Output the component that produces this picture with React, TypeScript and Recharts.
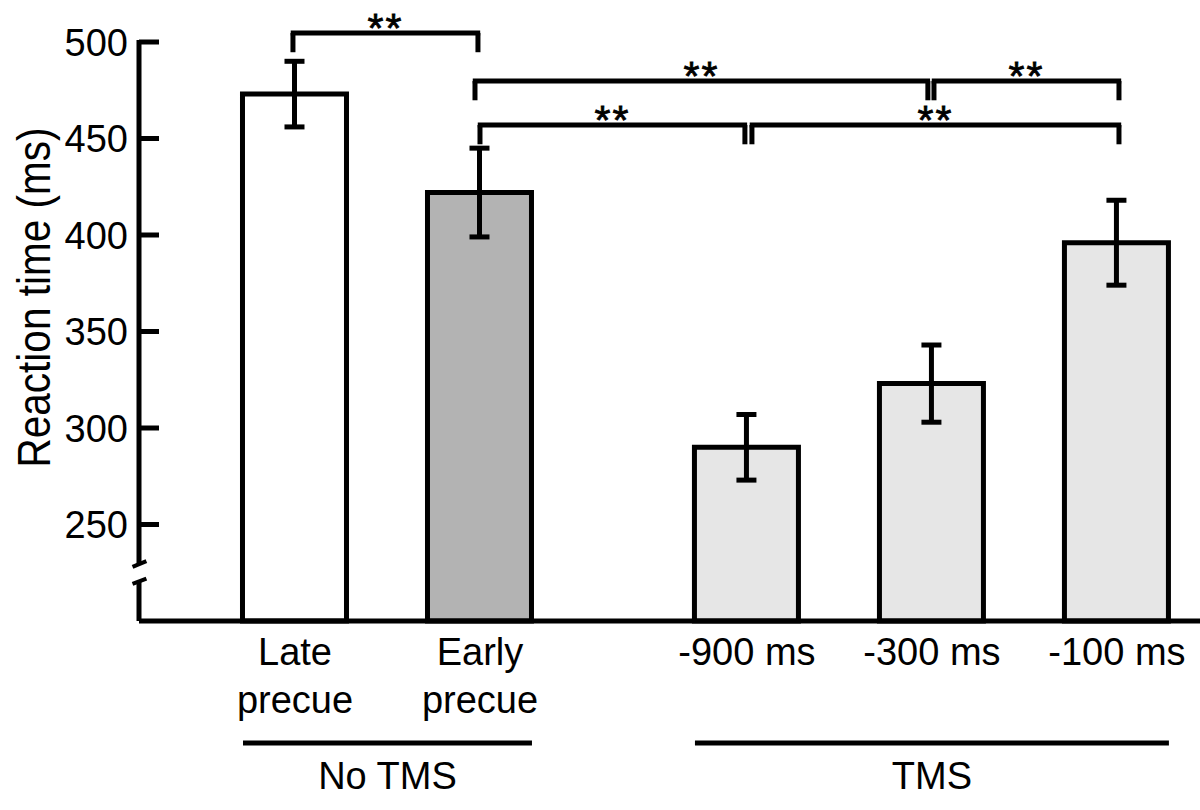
import React from "react";
import { BarChart, Bar, Cell, XAxis, YAxis, ErrorBar, ReferenceLine } from "recharts";

const categories = ["Late precue", "Early precue", "-900 ms", "-300 ms", "-100 ms"];
const tickLabels = [["Late", "precue"], ["Early", "precue"], ["-900 ms"], ["-300 ms"], ["-100 ms"]];
const xPositions = [0, 1, 2.443, 3.443, 4.443];
const meanRT = [473, 422, 290, 323, 396];
const semRT = [17, 23, 17, 20, 22];
const yTicks = [250, 300, 350, 400, 450, 500];

const groupNames = ["No TMS", "TMS"];
const groupFirst = [0, 2];
const groupLast = [1, 4];

const sigFrom = [0, 1, 3, 1, 2];
const sigTo = [1, 3, 4, 2, 4];
const sigText = ["**", "**", "**", "**", "**"];

const FILLS = ["#ffffff", "#b3b3b3", "#e6e6e6", "#e6e6e6", "#e6e6e6"];
const FONT = "'Liberation Sans', Arial, Helvetica, sans-serif";
const FS = 38;

// x domain chosen so one category step is ~185px
const X_MIN = -0.8432;
const X_MAX = 4.892;
const BAR_HALF = 0.281;

// annotation layout (data units)
const sigLevel = [504.7, 479.8, 479.8, 457, 457];
const sigNudgeL = [-0.011, -0.027, 0.011, 0, 0.027];
const sigNudgeR = [-0.011, -0.022, 0.011, -0.011, 0.011];
const SIG_DROP = 10;
const GROUP_Y = 136.8;

const data = categories.map((name, i) => ({
  name,
  x: xPositions[i],
  rt: meanRT[i],
  sem: semRT[i],
}));

const XTick = (props: any) => {
  const { x, y, payload } = props;
  const idx = xPositions.indexOf(payload.value);
  const lines = tickLabels[idx] || [];
  return (
    <text x={x} y={y} textAnchor="middle" fontSize={FS} fontFamily={FONT} fill="#000">
      {lines.map((l, i) => (
        <tspan key={i} x={x} y={y + 44 + i * 48}>
          {l}
        </tspan>
      ))}
    </text>
  );
};

const YTick = (props: any) => {
  const { x, y, payload } = props;
  return (
    <g>
      <line x1={x + 11} x2={x + 31} y1={y} y2={y} stroke="#000" strokeWidth={5} />
      <text x={x} y={y} dy="0.36em" textAnchor="end" fontSize={FS} fontFamily={FONT} fill="#000">
        {payload.value}
      </text>
    </g>
  );
};

const YLabel = (props: any) => {
  const vb = props.viewBox || { x: 2, y: 42, width: 137, height: 579 };
  const cx = vb.x + 48;
  const cy = vb.y + vb.height / 2 - 34;
  return (
    <text
      x={cx}
      y={cy}
      transform={`rotate(-90 ${cx} ${cy})`}
      textAnchor="middle"
      fontSize={47}
      fontFamily={FONT}
      textLength={340}
      lengthAdjust="spacingAndGlyphs"
      fill="#000"
    >
      Reaction time (ms)
    </text>
  );
};

const line = { stroke: "#000", strokeWidth: 5, ifOverflow: "visible" as const };

export default function App() {
  const brackets = sigFrom.flatMap((from, i) => {
    const x1 = xPositions[from] + sigNudgeL[i];
    const x2 = xPositions[sigTo[i]] + sigNudgeR[i];
    const lv = sigLevel[i];
    return [
      <ReferenceLine key={`bl${i}`} {...line} segment={[{ x: x1, y: lv }, { x: x1, y: lv - SIG_DROP }]} />,
      <ReferenceLine key={`br${i}`} {...line} segment={[{ x: x2, y: lv }, { x: x2, y: lv - SIG_DROP }]} />,
      <ReferenceLine
        key={`bh${i}`}
        {...line}
        segment={[{ x: x1 - 0.012, y: lv }, { x: x2 + 0.012, y: lv }]}
        label={{
          value: sigText[i],
          position: "top",
          offset: -9,
          fontSize: 41,
          fontFamily: FONT,
          fill: "#000",
          stroke: "#000",
          strokeWidth: 0.8,
          letterSpacing: 2,
        }}
      />,
    ];
  });

  const groups = groupNames.map((g, i) => (
    <ReferenceLine
      key={`g${i}`}
      {...line}
      segment={[
        { x: xPositions[groupFirst[i]] - BAR_HALF, y: GROUP_Y },
        { x: xPositions[groupLast[i]] + BAR_HALF, y: GROUP_Y },
      ]}
      label={{ value: g, position: "bottom", offset: 19, fontSize: FS, fontFamily: FONT, fill: "#000" }}
    />
  ));

  return (
    <div style={{ position: "absolute", left: 0, top: 0, width: 1200, height: 810, background: "#fff" }}>
      <BarChart width={1200} height={810} data={data} margin={{ top: 42, right: 0, bottom: 0, left: 2 }}>
        <XAxis
          dataKey="x"
          type="number"
          domain={[X_MIN, X_MAX]}
          allowDataOverflow
          ticks={xPositions}
          interval={0}
          height={189}
          tickLine={false}
          tickSize={0}
          tickMargin={0}
          axisLine={{ stroke: "#000", strokeWidth: 5 }}
          tick={<XTick />}
        />
        <YAxis
          type="number"
          domain={[200, 500]}
          ticks={yTicks}
          width={137}
          axisLine={false}
          tickLine={false}
          tickSize={0}
          tickMargin={11}
          tick={<YTick />}
          label={<YLabel />}
        />
        <Bar dataKey="rt" barSize={104} stroke="#000" strokeWidth={5} isAnimationActive={false}>
          {data.map((d, i) => (
            <Cell key={d.name} fill={FILLS[i]} />
          ))}
          <ErrorBar dataKey="sem" width={10} stroke="#000" strokeWidth={5} isAnimationActive={false} />
        </Bar>
        {/* broken y axis */}
        <ReferenceLine {...line} segment={[{ x: X_MIN, y: 501 }, { x: X_MIN, y: 229.5 }]} />
        <ReferenceLine {...line} segment={[{ x: X_MIN, y: 220.5 }, { x: X_MIN, y: 200 }]} />
        <ReferenceLine
          stroke="#000"
          strokeWidth={4}
          ifOverflow="visible"
          segment={[{ x: X_MIN - 0.035, y: 228 }, { x: X_MIN + 0.04, y: 231 }]}
        />
        <ReferenceLine
          stroke="#000"
          strokeWidth={4}
          ifOverflow="visible"
          segment={[{ x: X_MIN - 0.035, y: 219.2 }, { x: X_MIN + 0.04, y: 222 }]}
        />
        {brackets}
        {groups}
      </BarChart>
    </div>
  );
}
